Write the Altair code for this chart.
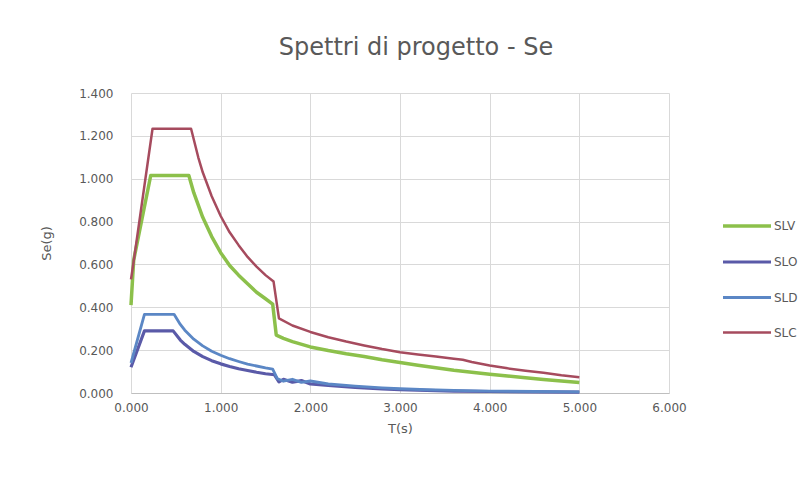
import altair as alt
import pandas as pd

# Design response spectra Se(T) for the four limit states
slv_t = [0.00, 0.03, 0.22, 0.30, 0.40, 0.50, 0.60, 0.645, 0.70, 0.80, 0.90, 1.00, 1.10, 1.20, 1.30,
         1.40, 1.50, 1.58, 1.62, 1.70, 1.80, 2.00, 2.20, 2.40, 2.60, 2.80, 3.00, 3.20, 3.40, 3.60,
         3.80, 4.00, 4.20, 4.40, 4.60, 4.80, 5.00]
slv_se = [0.410, 0.620, 1.015, 1.015, 1.015, 1.015, 1.015, 1.015, 0.935, 0.820, 0.730, 0.655, 0.595,
          0.550, 0.510, 0.470, 0.440, 0.415, 0.270, 0.255, 0.240, 0.215, 0.198, 0.183, 0.170, 0.155,
          0.142, 0.130, 0.118, 0.106, 0.097, 0.088, 0.079, 0.071, 0.063, 0.056, 0.049]

slo_t = [0.00, 0.15, 0.25, 0.35, 0.47, 0.55, 0.60, 0.70, 0.80, 0.90, 1.00, 1.10, 1.20, 1.30, 1.40,
         1.50, 1.60, 1.65, 1.70, 1.80, 1.90, 2.00, 2.20, 2.50, 2.80, 3.00, 3.30, 3.60, 4.00, 4.50, 5.00]
slo_se = [0.120, 0.290, 0.290, 0.290, 0.290, 0.247, 0.227, 0.194, 0.170, 0.151, 0.136, 0.124, 0.113,
          0.105, 0.097, 0.090, 0.085, 0.052, 0.064, 0.050, 0.058, 0.042, 0.035, 0.026, 0.019, 0.016,
          0.012, 0.009, 0.007, 0.005, 0.004]

sld_t = [0.00, 0.15, 0.25, 0.35, 0.48, 0.55, 0.60, 0.70, 0.80, 0.90, 1.00, 1.10, 1.20, 1.30, 1.40,
         1.50, 1.58, 1.63, 1.70, 1.80, 1.90, 2.00, 2.20, 2.50, 2.80, 3.00, 3.30, 3.60, 4.00, 4.50, 5.00]
sld_se = [0.140, 0.367, 0.367, 0.367, 0.367, 0.320, 0.293, 0.251, 0.220, 0.195, 0.176, 0.160, 0.147,
          0.135, 0.126, 0.117, 0.111, 0.068, 0.055, 0.064, 0.050, 0.056, 0.042, 0.032, 0.024, 0.020,
          0.015, 0.012, 0.009, 0.007, 0.005]

slc_t = [0.00, 0.025, 0.24, 0.35, 0.45, 0.55, 0.67, 0.75, 0.80, 0.90, 1.00, 1.10, 1.20, 1.30, 1.40,
         1.50, 1.59, 1.65, 1.80, 2.00, 2.20, 2.40, 2.60, 2.80, 3.00, 3.20, 3.40, 3.60, 3.70, 3.80,
         4.00, 4.20, 4.40, 4.60, 4.80, 5.00]
slc_se = [0.530, 0.600, 1.233, 1.233, 1.233, 1.233, 1.233, 1.100, 1.030, 0.918, 0.826, 0.750, 0.690,
          0.635, 0.590, 0.550, 0.520, 0.348, 0.315, 0.285, 0.260, 0.240, 0.222, 0.205, 0.190, 0.180,
          0.170, 0.160, 0.155, 0.145, 0.128, 0.115, 0.104, 0.094, 0.083, 0.074]

series_names = ["SLV", "SLO", "SLD", "SLC"]
series_colors = ["#8CC04B", "#5A5AA8", "#5B87C5", "#A64B5E"]
series_widths = [3.5, 2.5, 2.5, 2.2]

x_ticks = [0, 1, 2, 3, 4, 5, 6]
y_ticks = [0.0, 0.2, 0.4, 0.6, 0.8, 1.0, 1.2, 1.4]

rows = []
for name, ts, ses in zip(series_names, [slv_t, slo_t, sld_t, slc_t], [slv_se, slo_se, sld_se, slc_se]):
    for t, s in zip(ts, ses):
        rows.append({"serie": name, "T": t, "Se": s})
df = pd.DataFrame(rows)

FONT = "DejaVu Sans"
GREY = "#595959"

legend = alt.Legend(
    title=None,
    orient="none",
    legendX=590,
    legendY=107,
    symbolType="stroke",
    symbolSize=2304,
    rowPadding=3,
    padding=0,
    labelOffset=1,
    labelFont=FONT,
    labelFontSize=12,
    labelColor=GREY,
)

chart = (
    alt.Chart(df)
    .mark_line(interpolate="linear", strokeJoin="round")
    .encode(
        x=alt.X(
            "T:Q",
            title="T(s)",
            scale=alt.Scale(domain=[0, 6], nice=False, zero=False),
            axis=alt.Axis(values=x_ticks, format=".3f", labelPadding=9, titlePadding=9,
                          labelFlush=False, ticks=False, domainColor="#BFBFBF"),
        ),
        y=alt.Y(
            "Se:Q",
            title="Se(g)",
            scale=alt.Scale(domain=[0, 1.4], nice=False),
            axis=alt.Axis(values=y_ticks, format=".3f", labelPadding=18, titlePadding=25,
                          ticks=False, domain=False),
        ),
        color=alt.Color("serie:N", scale=alt.Scale(domain=series_names, range=series_colors),
                        legend=legend),
        strokeWidth=alt.StrokeWidth("serie:N", scale=alt.Scale(domain=series_names, range=series_widths),
                                    legend=legend),
        detail="serie:N",
        order=alt.Order("T:Q"),
    )
    .properties(
        width=538,
        height=300,
        autosize=alt.AutoSizeParams(type="none"),
        padding={"left": 131, "top": 93, "right": 140, "bottom": 93},
        title=alt.TitleParams(
            "Spettri di progetto - Se",
            font=FONT,
            fontSize=24,
            fontWeight="normal",
            color=GREY,
            anchor="middle",
            offset=27,
            dx=16,
        ),
    )
    .configure(background="white")
    .configure_view(stroke=None)
    .configure_axis(
        gridColor="#D9D9D9",
        gridWidth=1,
        labelFont=FONT,
        labelFontSize=12,
        labelColor=GREY,
        titleFont=FONT,
        titleFontSize=13,
        titleFontWeight="normal",
        titleColor=GREY,
    )
)

chart.save("out.html", embed_options={"renderer": "svg", "actions": False})
